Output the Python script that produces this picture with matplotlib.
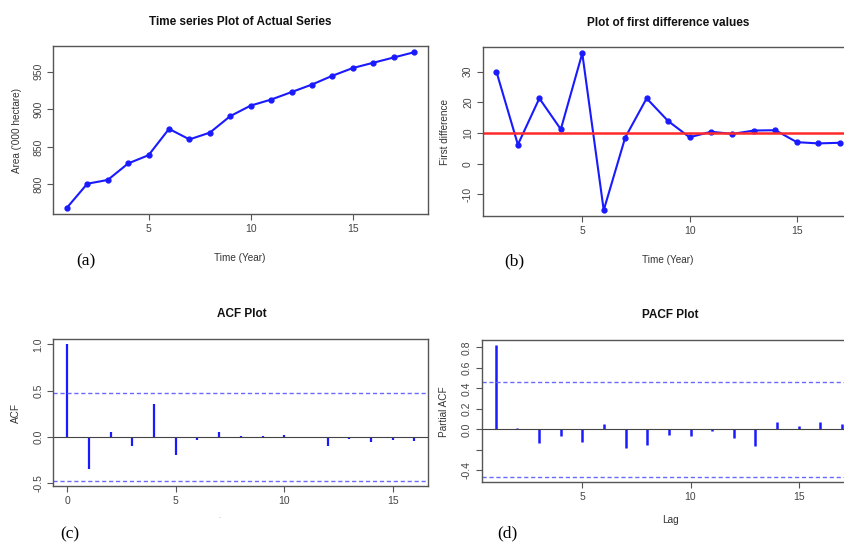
import matplotlib
matplotlib.use('Agg')
import matplotlib.pyplot as plt

# === Data ===
years = list(range(1, 19))
area = [769, 801, 806, 828, 839, 874, 860, 869, 891, 905, 913, 923, 933, 944.7, 955, 962, 969, 976]

diff_time = list(range(1, 18))
first_diff = [30.0, 6.2, 21.3, 11.2, 36.0, -15.2, 8.5, 21.3, 13.9, 8.6, 10.4, 9.7, 10.8, 10.9, 7.0, 6.6, 6.8]
diff_ref = 10

acf_lags = list(range(0, 17))
acf_vals = [1.0, -0.355, 0.054, -0.10, 0.359, -0.196, -0.036, 0.05, 0.003, 0.01, 0.018,
            -0.014, -0.098, -0.025, -0.058, -0.036, -0.047]
acf_ci = 0.475

pacf_lags = list(range(1, 18))
pacf_vals = [0.819, 0.016, -0.129, -0.065, -0.119, 0.055, -0.177, -0.152, -0.052, -0.065,
             -0.019, -0.081, -0.158, 0.068, 0.035, 0.074, 0.055]
pacf_ci = 0.465

plt.rcParams['axes.unicode_minus'] = False  # R prints a plain hyphen

W, H = 845, 543
BLUE = '#1a1aff'
FRAME = '#555555'
TXT = '#333333'
SANS = ['Liberation Sans', 'DejaVu Sans']
NARROW = ['Liberation Sans Narrow', 'Liberation Sans', 'DejaVu Sans']
SERIF = ['Liberation Serif', 'DejaVu Serif']

fig = plt.figure(figsize=(W / 100, H / 100), dpi=100)


def box(left, top, right, bottom):
    # pixel box -> axes
    return fig.add_axes([left / W, 1 - bottom / H, (right - left) / W, (bottom - top) / H])


def r_style(ax):
    for s in ax.spines.values():
        s.set_color(FRAME)
        s.set_linewidth(1.0)
    ax.tick_params(direction='out', length=4, width=0.8, color=FRAME,
                   labelsize=7.5, labelcolor='#444444', pad=3)
    for lab in ax.get_yticklabels():
        lab.set_rotation(90)
        lab.set_va('center')
    for lab in ax.get_xticklabels() + ax.get_yticklabels():
        lab.set_family(SANS)


def ftext(x, y, s, **kw):
    fig.text(x / W, 1 - y / H, s, ha='center', va='center', **kw)


# (a) actual series
ax = box(53, 46, 428, 214)
ax.plot(years, area, color=BLUE, lw=1.5, marker='o', ms=3.5, mfc=BLUE, mec=BLUE)
ax.set_xlim(0.32, 18.68)
ax.set_ylim(760.7, 984.3)
ax.set_xticks([5, 10, 15])
ax.set_yticks([800, 850, 900, 950])
r_style(ax)

# (b) first difference
ax = box(482.7, 47, 853.5, 216.5)
ax.plot(diff_time, first_diff, color=BLUE, lw=1.5, marker='o', ms=3.5, mfc=BLUE, mec=BLUE)
ax.axhline(diff_ref, color='#ff2a2a', lw=1.8)
ax.set_xlim(0.36, 17.64)
ax.set_ylim(-17.25, 38.05)
ax.set_xticks([5, 10, 15])
ax.set_yticks([-10, 0, 10, 20, 30])
r_style(ax)

# (c) ACF
ax = box(53.3, 339, 428.3, 486)
ax.vlines(acf_lags, 0, acf_vals, color=BLUE, lw=1.6)
ax.axhline(0, color='#444444', lw=0.8)
for c in (acf_ci, -acf_ci):
    ax.axhline(c, color='#6a6aff', lw=1.0, ls=(0, (3, 2)))
ax.set_xlim(-0.64, 16.64)
ax.set_ylim(-0.534, 1.059)
ax.set_xticks([0, 5, 10, 15])
ax.set_yticks([-0.5, 0.0, 0.5, 1.0])
ax.set_yticklabels(['-0.5', '0.0', '0.5', '1.0'])
r_style(ax)

# (d) PACF
ax = box(481.7, 340, 856, 482.3)
ax.vlines(pacf_lags, 0, pacf_vals, color=BLUE, lw=1.8)
ax.axhline(0, color='#444444', lw=0.8)
for c in (pacf_ci, -pacf_ci):
    ax.axhline(c, color='#6a6aff', lw=1.0, ls=(0, (3, 2)))
ax.set_xlim(0.36, 17.64)
ax.set_ylim(-0.516, 0.871)
ax.set_xticks([5, 10, 15])
ax.set_yticks([-0.4, -0.2, 0.0, 0.2, 0.4, 0.6, 0.8])
ax.set_yticklabels(['-0.4', '', '0.0', '0.2', '0.4', '0.6', '0.8'])
r_style(ax)

# titles
tkw = dict(fontsize=8.5, fontweight='bold', color='#111111', family=NARROW)
ftext(240, 22, 'Time series Plot of Actual Series', **tkw)
ftext(668, 22.5, 'Plot of first difference values', **tkw)
ftext(242, 314, 'ACF Plot', **tkw)
ftext(670, 315, 'PACF Plot', **tkw)

# axis labels
lkw = dict(fontsize=7.2, color=TXT, family=NARROW)
ftext(240, 258, 'Time (Year)', **lkw)
ftext(17, 130, "Area ('000 hectare)", rotation=90, **lkw)
ftext(668, 260.5, 'Time (Year)', **lkw)
ftext(445.5, 132, 'First difference', rotation=90, **lkw)
ftext(16, 413, 'ACF', rotation=90, **lkw)
ftext(220, 518, '-', fontsize=4, color='#999999', family=SANS)
ftext(444, 412, 'Partial ACF', rotation=90, **lkw)
ftext(670, 520, 'Lag', **lkw)

# panel tags
pkw = dict(fontsize=12.5, color='black', family=SERIF)
ftext(86, 261, '(a)', **pkw)
ftext(514, 261, '(b)', **pkw)
ftext(70, 534, '(c)', **pkw)
ftext(507, 533, '(d)', **pkw)

fig.savefig('out.png', dpi=100)
